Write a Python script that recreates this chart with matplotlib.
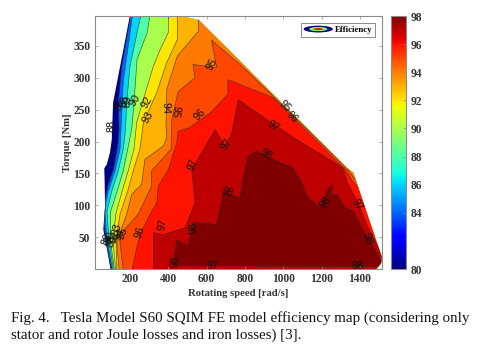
import matplotlib
matplotlib.use("Agg")
import matplotlib.pyplot as plt
from matplotlib import cm
from matplotlib.colors import Normalize
from matplotlib.lines import Line2D
from matplotlib.patches import Ellipse, Polygon
from matplotlib.legend_handler import HandlerBase

# Operating envelope of the machine (rotating speed [rad/s], torque [Nm])
envelope_speed = [200, 112, 105, 96, 79, 66, 68, 70, 61, 73, 87, 98, 1484, 1510, 1513, 1487, 1365, 1331, 983, 722, 557, 444]
envelope_torque = [398, 261, 203, 183, 164, 158, 136, 98, 62, 42, 20, 0, 0, 9, 20, 42, 151, 159, 263, 342, 391, 398]

# Iso-efficiency contours
c84_speed = [205, 157, 139, 143, 136, 113, 84, 70, 65, 78, 104]
c84_torque = [400, 318, 261, 219, 193, 156, 130, 109, 70, 39, -2]
c86_speed = [214, 165, 160, 153, 148, 122, 87, 75, 70, 80, 109]
c86_torque = [400, 293, 261, 219, 188, 154, 122, 104, 86, 46, -2]
c88_speed = [258, 200, 183, 177, 165, 139, 105, 80, 91, 114]
c88_torque = [400, 318, 261, 219, 188, 154, 122, 90, 45, -2]
c90_speed = [305, 290, 237, 221, 209, 191, 165, 131, 98, 98, 119]
c90_torque = [400, 371, 329, 261, 219, 192, 154, 120, 89, 45, -2]
c92_speed = [400, 400, 357, 322, 270, 235, 221, 191, 157, 126, 112, 125]
c92_torque = [400, 371, 344, 318, 266, 230, 188, 154, 120, 86, 45, -2]
c93_speed = [447, 447, 392, 340, 270, 252, 217, 191, 148, 127, 132]
c93_torque = [400, 360, 324, 277, 230, 188, 154, 125, 86, 44, -2]
c94_speed = [557, 557, 447, 392, 388, 392, 374, 278, 261, 209, 183, 131, 144]
c94_torque = [400, 373, 334, 282, 224, 206, 193, 172, 133, 117, 86, 42, -2]
c95_speed = [1390, 1358, 1322, 983, 774, 626, 652, 529, 539, 451, 419, 414, 313, 313, 305, 243, 164, 148, 165]
c95_torque = [136, 147, 161, 261, 321, 359, 316, 321, 300, 278, 235, 188, 154, 130, 125, 86, 59, 42, -2]
c96_speed = [1400, 1358, 1322, 946, 711, 711, 670, 618, 513, 451, 444, 400, 348, 340, 305, 252, 209]
c96_torque = [125, 139, 156, 269, 297, 274, 261, 245, 222, 216, 198, 156, 130, 104, 86, 54, -2]
c97_speed = [1510, 1494, 1452, 1390, 1331, 1311, 1087, 913, 765, 731, 696, 644, 522, 539, 487, 374, 322, 322]
c97_torque = [18, 36, 58, 104, 138, 159, 200, 235, 266, 214, 193, 219, 156, 104, 65, 54, 57, -2]
c98_speed = [435, 430, 444, 504, 530, 652, 687, 774, 790, 816, 861, 946, 1051, 1096, 1129, 1191, 1233, 1259, 1249, 1279, 1322, 1364, 1416, 1468, 1513, 1494, 435]
c98_torque = [5, 15, 46, 36, 73, 70, 120, 112, 140, 177, 185, 172, 159, 136, 112, 97, 125, 133, 117, 117, 97, 91, 62, 36, 12, 4, 5]

open_contours = [
    (84, c84_speed, c84_torque), (86, c86_speed, c86_torque), (88, c88_speed, c88_torque),
    (90, c90_speed, c90_torque), (92, c92_speed, c92_torque), (93, c93_speed, c93_torque),
    (94, c94_speed, c94_torque), (95, c95_speed, c95_torque), (96, c96_speed, c96_torque),
    (97, c97_speed, c97_torque),
]

# Inline contour labels
label_texts = ['88', '86', '88', '89', '90', '92', '93', '94', '95', '96', '95', '97', '97', '98', '97', '95', '96',
               '97', '98', '98', '98', '97', '96', '98', '97', '98', '98',
               '93', '95', '94', '92', '90', '88', '86']
label_speed = [105, 148, 174, 190, 226, 290, 296, 383, 435, 565, 628, 705, 529, 910, 946, 1009, 1044,
               371, 530, 435, 706, 633, 252, 1218, 1385, 1437, 1390,
               131, 165, 148, 122, 96, 105, 79]
label_torque = [225, 258, 263, 263, 264, 261, 238, 253, 247, 242, 322, 195, 164, 180, 224, 255, 239,
                70, 65, 12, 120, 4, 58, 104, 101, 47, 5,
                62, 56, 54, 50, 50, 44, 46]
label_angle = [90, 80, 80, 80, 60, 60, 60, 270, 260, 45, 60, 55, 70, -30, -35, -45, -45,
               80, 90, 85, -20, 0, 70, 50, -60, -70, 0,
               70, 70, 70, 70, 70, 70, 70]

x_ticks = [200, 400, 600, 800, 1000, 1200, 1400]
y_ticks = [50, 100, 150, 200, 250, 300, 350]
cbar_ticks = [80, 84, 86, 88, 90, 92, 94, 96, 98]
caption_1 = "Fig. 4.   Tesla Model S60 SQIM FE model efficiency map (considering only"
caption_2 = "stator and rotor Joule losses and iron losses) [3]."

serif = "Liberation Serif"
ink = "#333333"
frame = "#8a8a8a"
W, H = 480, 361
norm = Normalize(80, 98)
cmap = matplotlib.colormaps["jet"]

fig = plt.figure(figsize=(W / 100, H / 100), dpi=100, facecolor="white")
ax = fig.add_axes([94.5 / W, (H - 269) / H, 287.5 / W, 253 / H])
ax.set_xlim(15, 1515)
ax.set_ylim(0, 397)

env = Polygon(list(zip(envelope_speed, envelope_torque)), closed=True, fc=cmap(norm(80)), ec="none", zorder=1)
ax.add_patch(env)

for level, sx, sy in open_contours:
    px = list(sx) + [1700, 1700]
    py = list(sy) + [-10, sy[0]]
    poly = Polygon(list(zip(px, py)), closed=True, fc=cmap(norm(level)), ec="none", zorder=1 + (level - 80) * 0.01)
    ax.add_patch(poly)
    poly.set_clip_path(env)
    ln, = ax.plot(sx, sy, color="#2a2a2a", lw=0.45, alpha=0.8, zorder=2)
    ln.set_clip_path(env)

poly98 = Polygon(list(zip(c98_speed, c98_torque)), closed=True, fc=cmap(norm(98)), ec="none", zorder=1.5)
ax.add_patch(poly98)
poly98.set_clip_path(env)
ln98, = ax.plot(c98_speed, c98_torque, color="#2a2a2a", lw=0.45, alpha=0.8, zorder=2)
ln98.set_clip_path(env)

for s, tx, ty, a in zip(label_texts, label_speed, label_torque, label_angle):
    ax.text(tx, ty, s, rotation=a, ha="center", va="center", fontsize=7.8, color="#111111",
            family="Liberation Sans", rotation_mode="anchor", zorder=3, clip_on=True)


class EfficiencyHandle(HandlerBase):
    def create_artists(self, legend, orig, xd, yd, width, height, fontsize, trans):
        cx, cy = width / 2 - xd, height / 2 - yd
        return [Ellipse((cx, cy), width, height * 1.0, fc=cmap(norm(80)), ec="none", transform=trans),
                Ellipse((cx, cy), width * 0.62, height * 0.62, fc=cmap(norm(89)), ec="none", transform=trans),
                Ellipse((cx, cy), width * 0.32, height * 0.32, fc=cmap(norm(96)), ec="none", transform=trans)]


handle = Line2D([], [], label="Efficiency")
leg = ax.legend([handle], ["Efficiency"], handler_map={Line2D: EfficiencyHandle()},
                loc="upper right", bbox_to_anchor=(375 / 287.5 - 94.5 / 287.5, 1 - 7 / 253),
                borderaxespad=0, fancybox=False, framealpha=1, edgecolor="#777777",
                prop={"family": serif, "weight": "bold", "size": 6.4},
                handlelength=3.3, handleheight=0.8, handletextpad=0.2, borderpad=0.3)
leg.get_frame().set_linewidth(0.6)
leg.set_zorder(5)

ax.set_xticks(x_ticks)
ax.set_yticks(y_ticks)
ax.tick_params(direction="in", top=True, right=True, length=2, width=0.5, color=frame, pad=3,
               labelsize=8.3, labelcolor=ink)
for t in ax.get_xticklabels() + ax.get_yticklabels():
    t.set_family(serif)
    t.set_fontweight("bold")
for s in ax.spines.values():
    s.set_color(frame)
    s.set_linewidth(0.8)
    s.set_zorder(6)
ax.set_xlabel("Rotating speed [rad/s]", family=serif, weight="bold", fontsize=7.7, color=ink)
ax.xaxis.set_label_coords((238 - 94.5) / 287.5, -(293 - 269) / 253, transform=ax.transAxes)
ax.xaxis.label.set_va("center")
ax.set_ylabel("Torque [Nm]", family=serif, weight="bold", fontsize=7.7, color=ink)
ax.yaxis.set_label_coords(-(94.5 - 67) / 287.5, (269 - 143) / 253, transform=ax.transAxes)
ax.yaxis.label.set_va("center")

cax = fig.add_axes([391 / W, (H - 269) / H, 15 / W, 253 / H])
cb = fig.colorbar(cm.ScalarMappable(norm=norm, cmap=cmap), cax=cax, ticks=cbar_ticks)
cb.ax.tick_params(direction="in", length=2, width=0.5, color=frame, labelsize=8.3, labelcolor=ink, pad=3)
for t in cb.ax.get_yticklabels():
    t.set_family(serif)
    t.set_fontweight("bold")
cb.outline.set_edgecolor(frame)
cb.outline.set_linewidth(0.8)

fig.text(11 / W, 1 - 321.5 / H, caption_1, family=serif, fontsize=10.8, color="#111111", va="baseline")
fig.text(11 / W, 1 - 338.5 / H, caption_2, family=serif, fontsize=10.8, color="#111111", va="baseline")

fig.savefig("out.png", dpi=100)
